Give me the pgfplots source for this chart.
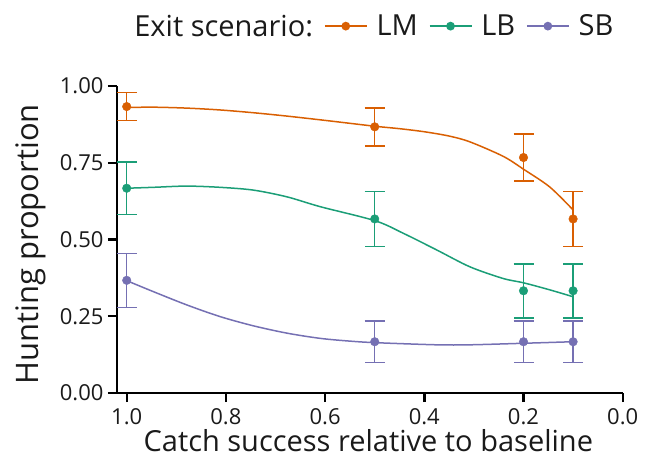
\documentclass[border=0pt]{standalone}
\usepackage{fontspec}
\setmainfont{Open Sans}
\usepackage{pgfplots}
\pgfplotsset{compat=1.18}
\definecolor{cLM}{HTML}{D95F02}
\definecolor{cLB}{HTML}{1B9E77}
\definecolor{cSB}{HTML}{7570B3}
\definecolor{txt}{HTML}{1A1A1A}
\begin{document}
\begin{tikzpicture}
\useasboundingbox (-117pt,-74pt) rectangle (535pt,393pt);
\begin{axis}[
  at={(0,0)}, anchor=south west,
  scale only axis, width=505.7pt, height=307pt,
  x dir=reverse, xmin=0, xmax=1.0196, ymin=0, ymax=1,
  axis x line*=bottom, axis y line*=left,
  axis line style={line width=2.4pt, black},
  xtick={0,0.2,0.4,0.6,0.8,1.0}, ytick={0,0.25,0.5,0.75,1},
  major tick style={line width=2.4pt, black}, major tick length=9pt, tick align=outside,
  /pgf/number format/assume math mode=true,
  ticklabel style={font=\fontsize{22}{26}\selectfont, text=txt},
  xticklabel style={inner ysep=1.5pt, yshift=-5pt, /pgf/number format/.cd, fixed, fixed zerofill, precision=1},
  yticklabel style={xshift=-1pt, /pgf/number format/.cd, fixed, fixed zerofill, precision=2},
  xlabel={Catch success relative to baseline},
  ylabel={Hunting proportion},
  every axis x label/.style={at={(axis description cs:0.497,-0.1906)}, anchor=base, inner sep=1pt, font=\fontsize{29}{34}\selectfont, text=txt},
  every axis y label/.style={at={(axis description cs:-0.156,0.484)}, anchor=base, rotate=90, font=\fontsize{31}{36}\selectfont, text=txt},
  legend columns=-1,
  legend style={draw=none, fill=none, at={(axis description cs:0.501,1.195)}, anchor=center,
    font=\fontsize{29}{34}\selectfont, text=txt,
    /tikz/every even column/.style={column sep=9pt},
    /tikz/every odd column/.style={column sep=7pt}},
  legend image code/.code={\draw[mark repeat=2,mark phase=2,#1] plot coordinates {(0pt,0pt) (21pt,0pt) (42pt,0pt)};},
  error bars/error bar style={line width=1.5pt},
  error bars/error mark options={rotate=90, mark size=10pt, line width=1.5pt},
]
\addlegendimage{empty legend}
\addlegendentry{Exit scenario:\hspace{6pt}}
\addlegendimage{cLM, line width=1.5pt, mark=*, mark size=3.6pt}
\addlegendentry{LM}
\addlegendimage{cLB, line width=1.5pt, mark=*, mark size=3.6pt}
\addlegendentry{LB}
\addlegendimage{cSB, line width=1.5pt, mark=*, mark size=3.6pt}
\addlegendentry{SB}

% fitted curves
\addplot[cLM, line width=1.5pt, smooth, forget plot] coordinates {
(1.0,0.930) (0.946,0.931) (0.879,0.928) (0.812,0.922) (0.745,0.913) (0.677,0.902) (0.6,0.888) (0.5,0.869) (0.45,0.861) (0.4,0.851) (0.35,0.837) (0.308,0.818) (0.241,0.771) (0.200,0.729) (0.147,0.671) (0.101,0.598)};
\addplot[cLB, line width=1.5pt, smooth, forget plot] coordinates {
(1.0,0.667) (0.946,0.670) (0.879,0.674) (0.812,0.670) (0.745,0.661) (0.677,0.639) (0.610,0.607) (0.499,0.561) (0.442,0.520) (0.375,0.466) (0.308,0.411) (0.241,0.373) (0.200,0.359) (0.147,0.336) (0.101,0.314)};
\addplot[cSB, line width=1.5pt, smooth, forget plot] coordinates {
(1.0,0.366) (0.946,0.330) (0.879,0.287) (0.812,0.249) (0.745,0.219) (0.677,0.195) (0.610,0.178) (0.55,0.169) (0.499,0.164) (0.375,0.157) (0.308,0.157) (0.200,0.162) (0.101,0.167)};

% observed proportions with error bars
\addplot[cLM, only marks, mark=*, mark size=4.3pt, forget plot, error bars/.cd, y dir=both, y explicit]
 table[x=x, y=y, y error=e] {
x y e
1.0 0.933 0.046
0.5 0.867 0.062
0.2 0.767 0.077
0.1 0.567 0.090
};
\addplot[cLB, only marks, mark=*, mark size=4.3pt, forget plot, error bars/.cd, y dir=both, y explicit]
 table[x=x, y=y, y error=e] {
x y e
1.0 0.667 0.086
0.5 0.567 0.090
0.2 0.333 0.088
0.1 0.333 0.088
};
\addplot[cSB, only marks, mark=*, mark size=4.3pt, forget plot, error bars/.cd, y dir=both, y explicit]
 table[x=x, y=y, y error=e] {
x y e
1.0 0.367 0.088
0.5 0.167 0.068
0.2 0.167 0.068
0.1 0.167 0.068
};
\end{axis}
\end{tikzpicture}
\end{document}
